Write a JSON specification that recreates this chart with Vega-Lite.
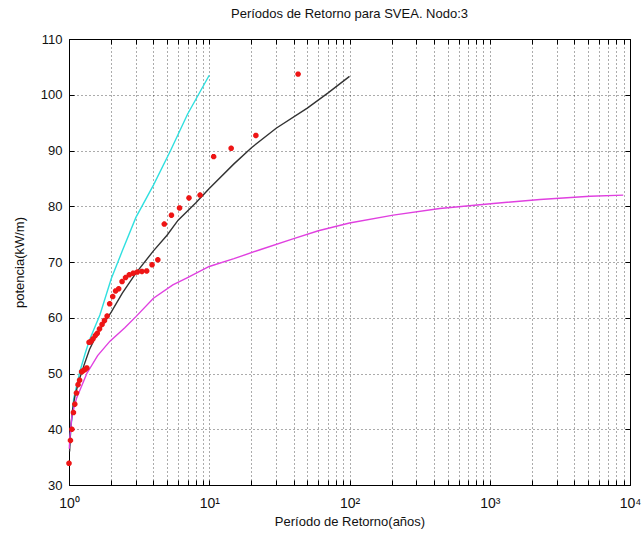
{
  "$schema": "https://vega.github.io/schema/vega-lite/v6.json",
  "autosize": {"type": "none"},
  "padding": {"left": 69, "top": 39, "right": 14, "bottom": 51},
  "width": 561,
  "height": 446,
  "background": "white",
  "config": {
    "view": {"stroke": "#000", "strokeWidth": 1},
    "font": "Liberation Sans",
    "axis": {
      "labelFont": "Liberation Sans",
      "titleFont": "Liberation Sans",
      "labelFontSize": 13,
      "titleFontSize": 13,
      "titleFontWeight": "normal",
      "labelColor": "#111",
      "titleColor": "#111",
      "domainColor": "#000",
      "tickColor": "#000",
      "gridColor": "#000",
      "gridDash": [1, 3],
      "gridOpacity": 0.65,
      "gridWidth": 1
    }
  },
  "title": {
    "text": "Períodos de Retorno para SVEA. Nodo:3",
    "font": "Liberation Sans",
    "fontSize": 13,
    "fontWeight": "normal",
    "color": "#111",
    "anchor": "middle",
    "offset": 12
  },
  "datasets": {
    "curves": [
      {"T": 1.01, "y": 37.0, "s": "cyan"},
      {"T": 1.03, "y": 40.0, "s": "cyan"},
      {"T": 1.08, "y": 45.5, "s": "cyan"},
      {"T": 1.2, "y": 50.5, "s": "cyan"},
      {"T": 1.3, "y": 53.5, "s": "cyan"},
      {"T": 1.4, "y": 56.0, "s": "cyan"},
      {"T": 1.66, "y": 60.5, "s": "cyan"},
      {"T": 2.0, "y": 67.0, "s": "cyan"},
      {"T": 2.4, "y": 72.0, "s": "cyan"},
      {"T": 3.0, "y": 78.0, "s": "cyan"},
      {"T": 4.0, "y": 83.8, "s": "cyan"},
      {"T": 5.3, "y": 90.0, "s": "cyan"},
      {"T": 7.0, "y": 96.5, "s": "cyan"},
      {"T": 10.0, "y": 103.5, "s": "cyan"},
      {"T": 1.01, "y": 36.0, "s": "black"},
      {"T": 1.03, "y": 40.5, "s": "black"},
      {"T": 1.06, "y": 43.5, "s": "black"},
      {"T": 1.1, "y": 45.8, "s": "black"},
      {"T": 1.18, "y": 48.8, "s": "black"},
      {"T": 1.28, "y": 51.5, "s": "black"},
      {"T": 1.4, "y": 54.3, "s": "black"},
      {"T": 1.6, "y": 57.3, "s": "black"},
      {"T": 2.0, "y": 61.0, "s": "black"},
      {"T": 2.4, "y": 64.4, "s": "black"},
      {"T": 3.0, "y": 68.0, "s": "black"},
      {"T": 4.0, "y": 72.0, "s": "black"},
      {"T": 5.0, "y": 74.8, "s": "black"},
      {"T": 6.0, "y": 77.5, "s": "black"},
      {"T": 8.0, "y": 80.6, "s": "black"},
      {"T": 10.0, "y": 83.2, "s": "black"},
      {"T": 15.0, "y": 87.6, "s": "black"},
      {"T": 20.0, "y": 90.5, "s": "black"},
      {"T": 30.0, "y": 94.0, "s": "black"},
      {"T": 50.0, "y": 97.6, "s": "black"},
      {"T": 70.0, "y": 100.3, "s": "black"},
      {"T": 100.0, "y": 103.3, "s": "black"},
      {"T": 1.005, "y": 36.5, "s": "magenta"},
      {"T": 1.016, "y": 38.7, "s": "magenta"},
      {"T": 1.05, "y": 42.5, "s": "magenta"},
      {"T": 1.13, "y": 45.5, "s": "magenta"},
      {"T": 1.34, "y": 50.0, "s": "magenta"},
      {"T": 1.6, "y": 53.2, "s": "magenta"},
      {"T": 1.96, "y": 55.8, "s": "magenta"},
      {"T": 2.5, "y": 58.2, "s": "magenta"},
      {"T": 3.0, "y": 60.2, "s": "magenta"},
      {"T": 4.0, "y": 63.5, "s": "magenta"},
      {"T": 5.5, "y": 65.9, "s": "magenta"},
      {"T": 7.0, "y": 67.2, "s": "magenta"},
      {"T": 10.0, "y": 69.2, "s": "magenta"},
      {"T": 15.0, "y": 70.6, "s": "magenta"},
      {"T": 23.0, "y": 72.2, "s": "magenta"},
      {"T": 40.0, "y": 74.2, "s": "magenta"},
      {"T": 60.0, "y": 75.6, "s": "magenta"},
      {"T": 100.0, "y": 77.0, "s": "magenta"},
      {"T": 205.0, "y": 78.4, "s": "magenta"},
      {"T": 440.0, "y": 79.6, "s": "magenta"},
      {"T": 1060.0, "y": 80.5, "s": "magenta"},
      {"T": 2280.0, "y": 81.2, "s": "magenta"},
      {"T": 5190.0, "y": 81.8, "s": "magenta"},
      {"T": 8950.0, "y": 82.0, "s": "magenta"}
    ],
    "obs": [
      {"T": 43.0, "y": 103.7},
      {"T": 21.5, "y": 92.7},
      {"T": 14.33, "y": 90.4},
      {"T": 10.75, "y": 88.9},
      {"T": 8.6, "y": 82.0},
      {"T": 7.17, "y": 81.5},
      {"T": 6.14, "y": 79.7},
      {"T": 5.375, "y": 78.4},
      {"T": 4.78, "y": 76.8},
      {"T": 4.3, "y": 70.4},
      {"T": 3.91, "y": 69.5},
      {"T": 3.58, "y": 68.4},
      {"T": 3.31, "y": 68.3},
      {"T": 3.07, "y": 68.2},
      {"T": 2.87, "y": 68.0},
      {"T": 2.69, "y": 67.7},
      {"T": 2.53, "y": 67.2},
      {"T": 2.39, "y": 66.5},
      {"T": 2.26, "y": 65.2},
      {"T": 2.15, "y": 64.8},
      {"T": 2.05, "y": 63.8},
      {"T": 1.95, "y": 62.5},
      {"T": 1.87, "y": 60.3},
      {"T": 1.79, "y": 59.5},
      {"T": 1.72, "y": 58.8},
      {"T": 1.65, "y": 58.0},
      {"T": 1.59, "y": 57.2},
      {"T": 1.54, "y": 56.8},
      {"T": 1.48, "y": 56.2},
      {"T": 1.43, "y": 55.7},
      {"T": 1.39, "y": 55.6},
      {"T": 1.34, "y": 51.0},
      {"T": 1.3, "y": 50.7},
      {"T": 1.26, "y": 50.5},
      {"T": 1.23, "y": 50.3},
      {"T": 1.19, "y": 48.8},
      {"T": 1.16, "y": 48.0},
      {"T": 1.13, "y": 46.5},
      {"T": 1.1, "y": 44.5},
      {"T": 1.075, "y": 43.0},
      {"T": 1.049, "y": 40.0},
      {"T": 1.024, "y": 38.0},
      {"T": 1.0, "y": 33.9}
    ]
  },
  "resolve": {"axis": {"x": "independent", "y": "independent"}},
  "layer": [
    {
      "data": {"name": "curves"},
      "mark": {"type": "line", "strokeWidth": 1.4},
      "encoding": {
        "x": {
          "field": "T", "type": "quantitative",
          "scale": {"type": "log", "domain": [1, 10000], "nice": false},
          "axis": {
            "orient": "bottom",
            "title": "Período de Retorno(años)",
            "titlePadding": 5,
            "values": [1,2,3,4,5,6,7,8,9,10,20,30,40,50,60,70,80,90,100,200,300,400,500,600,700,800,900,1000,2000,3000,4000,5000,6000,7000,8000,9000,10000],
            "labelExpr": "datum.value == 1 ? '10⁰' : datum.value == 10 ? '10¹' : datum.value == 100 ? '10²' : datum.value == 1000 ? '10³' : datum.value == 10000 ? '10⁴' : ''",
            "labelOverlap": false,
            "labelFlush": false,
            "labelPadding": 16,
            "labelFontSize": 14,
            "tickSize": -5,
            "grid": true,
            "domain": false
          }
        },
        "y": {
          "field": "y", "type": "quantitative",
          "scale": {"domain": [30, 110], "nice": false, "zero": false},
          "axis": {
            "orient": "left",
            "title": "potencia(kW/m)",
            "titlePadding": 14,
            "values": [30,40,50,60,70,80,90,100,110],
            "labelPadding": 12,
            "tickSize": -5,
            "grid": true,
            "domain": false
          }
        },
        "color": {
          "field": "s", "type": "nominal",
          "scale": {"domain": ["cyan", "black", "magenta"], "range": ["#30e0e0", "#333333", "#e040e0"]},
          "legend": null
        }
      }
    },
    {
      "data": {"name": "obs"},
      "mark": {
        "type": "point",
        "shape": "M-1,0L1,0M0,-1L0,1M-0.7,-0.7L0.7,0.7M-0.7,0.7L0.7,-0.7",
        "filled": false,
        "stroke": "#ee1515",
        "strokeWidth": 2,
        "size": 30,
        "opacity": 1
      },
      "encoding": {
        "x": {
          "field": "T", "type": "quantitative",
          "axis": {
            "orient": "top",
            "title": null,
            "labels": false,
            "values": [1,2,3,4,5,6,7,8,9,10,20,30,40,50,60,70,80,90,100,200,300,400,500,600,700,800,900,1000,2000,3000,4000,5000,6000,7000,8000,9000,10000],
            "tickSize": -5,
            "grid": false,
            "domain": false
          }
        },
        "y": {
          "field": "y", "type": "quantitative",
          "axis": {
            "orient": "right",
            "title": null,
            "labels": false,
            "values": [30,40,50,60,70,80,90,100,110],
            "tickSize": -5,
            "grid": false,
            "domain": false
          }
        }
      }
    }
  ]
}
